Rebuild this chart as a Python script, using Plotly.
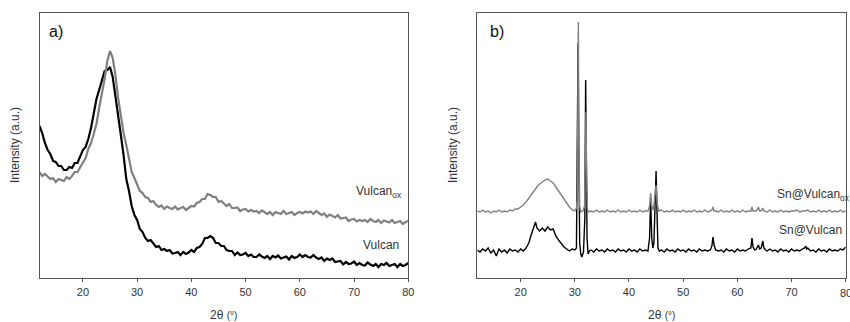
import plotly.graph_objects as go

# ---------------- DATA ----------------
# panel a) : 2-theta scan grid (0.5 deg steps, 12..80)
two_theta_a = [round(12 + 0.5 * i, 1) for i in range(137)]

vulcan_ox_a = [106, 102, 104, 101, 99, 100, 96, 99, 98, 97,
               101, 99, 102, 106, 106, 111, 116, 120, 129, 135,
               144, 154, 170, 184, 199, 217, 227, 220, 203, 180,
               163, 145, 133, 121, 106, 100, 94, 87, 85, 81,
               80, 76, 77, 73, 71, 72.5, 69, 71.5, 70, 69,
               71.5, 68.5, 70, 71, 68, 70.5, 72, 71.5, 75, 76,
               79, 79, 84, 83, 81, 81, 76, 77, 74, 72,
               74, 70, 70, 70.5, 67, 68.5, 69, 66.5, 68, 66.5,
               67, 65, 67.5, 65.5, 64, 66, 63, 66, 65, 64,
               67, 64, 65, 66, 63, 65, 66, 64.5, 66.5, 65.5,
               66.5, 64, 67, 64.5, 63, 64.5, 61, 63.5, 62, 60.5,
               63, 59.5, 60, 60.5, 57, 58.5, 59, 56.5, 58, 57,
               58, 56, 59, 57, 56, 58, 55, 57.5, 56.5, 55.5,
               58, 55, 56, 57, 54, 56, 57]

vulcan_a = [152, 145, 135, 128, 124, 117, 116, 112, 112, 108,
            108, 111, 110, 115, 115, 121, 128, 131, 139, 150,
            164, 179, 188, 197, 207, 208, 211, 201, 183, 162,
            143, 123, 99, 87, 72, 63, 58, 49, 46, 40,
            37, 38, 34, 31, 32, 28, 29, 27, 28, 24.5,
            25, 26, 23, 26, 24, 25.5, 28, 26, 30, 31,
            34, 40, 40, 42, 40, 35, 35, 32, 32, 28,
            27, 27, 23, 25.5, 23, 23.5, 25, 22, 23.5, 21,
            21, 23.5, 21.5, 20, 22, 19, 22, 20.5, 22.5, 19.5,
            20.5, 21.5, 18.5, 22, 20, 21, 23.5, 21, 23, 21,
            20.5, 23, 20.5, 19, 20.5, 17, 19.5, 18, 19.5, 16,
            16.5, 17, 13.5, 16, 14, 14.5, 16.5, 13, 15, 13,
            12.5, 15.5, 13.5, 12, 14, 11, 14, 13, 15, 12,
            13, 14, 11, 14, 12, 13, 15]

# panel b) : Sn@Vulcan
two_theta_sn = [12, 12.5, 13, 13.5, 14, 14.5, 15, 15.5, 16, 16.5,
                17, 17.5, 18, 18.5, 19, 19.5, 20, 20.5, 21, 21.5,
                22, 22.5, 22.75, 23, 23.5, 24, 24.5, 25, 25.5, 26,
                26.5, 27, 27.5, 28, 28.5, 29, 29.5, 30, 30.3, 30.45,
                30.6, 30.75, 30.9, 31.1, 31.3, 31.6, 31.85, 32.0, 32.1, 32.25,
                32.45, 32.7, 33, 33.5, 34, 34.5, 35, 35.5, 36, 36.5,
                37, 37.5, 38, 38.5, 39, 39.5, 40, 40.5, 41, 41.5,
                42, 42.5, 43, 43.5, 43.8, 44.0, 44.2, 44.4, 44.6, 44.85,
                45.0, 45.15, 45.35, 45.6, 46, 46.5, 47, 47.5, 48, 48.5,
                49, 49.5, 50, 50.5, 51, 51.5, 52, 52.5, 53, 53.5,
                54, 54.5, 55, 55.3, 55.5, 55.7, 56, 56.5, 57, 57.5,
                58, 58.5, 59, 59.5, 60, 60.5, 61, 61.5, 62, 62.5,
                62.7, 62.9, 63.2, 63.5, 63.9, 64.1, 64.4, 64.7, 64.9, 65.2,
                65.5, 66, 66.5, 67, 67.5, 68, 68.5, 69, 69.5, 70,
                70.5, 71, 71.5, 72, 72.4, 72.6, 72.8, 73, 73.5, 74,
                74.5, 75, 75.5, 76, 76.5, 77, 77.5, 78, 78.5, 79,
                79.5, 80]
sn_vulcan = [28, 26, 29, 27, 30, 25, 28, 22, 29, 26,
             28, 25, 29, 27, 28, 26, 29, 27, 30, 35,
             44, 53, 56, 50, 47, 50, 47, 51, 48, 49,
             42, 38, 34, 31, 29, 27, 29, 28, 30, 120,
             235, 120, 35, 24, 21, 26, 60, 198, 150, 40,
             24, 27, 28, 26, 29, 27, 28, 26, 29, 27,
             28, 26, 29, 27, 28, 26, 29, 27, 28, 26,
             29, 27, 28, 27, 40, 80, 40, 30, 35, 80,
             107, 70, 30, 27, 28, 26, 29, 27, 28, 26,
             29, 27, 28, 26, 29, 27, 28, 26, 29, 27,
             28, 27, 28, 32, 41, 33, 28, 27, 28, 26,
             29, 27, 28, 26, 29, 27, 28, 27, 29, 30,
             40, 31, 28, 29, 33, 29, 30, 37, 30, 28,
             27, 29, 27, 28, 26, 29, 27, 28, 26, 29,
             27, 28, 27, 29, 30, 32, 29, 30, 27, 28,
             26, 29, 27, 28, 26, 29, 27, 28, 27, 29,
             28, 31]

two_theta_snox = [12, 12.5, 13, 13.5, 14, 14.5, 15, 15.5, 16, 16.5,
                  17, 17.5, 18, 18.5, 19, 19.5, 20, 20.5, 21, 21.5,
                  22, 22.5, 23, 23.5, 24, 24.5, 25, 25.5, 26, 26.5,
                  27, 27.5, 28, 28.5, 29, 29.5, 30, 30.3, 30.45, 30.55,
                  30.65, 30.75, 30.9, 31.1, 31.5, 31.8, 31.95, 32.05, 32.15, 32.3,
                  32.5, 33, 33.5, 34, 34.5, 35, 35.5, 36, 36.5, 37,
                  37.5, 38, 38.5, 39, 39.5, 40, 40.5, 41, 41.5, 42,
                  42.5, 43, 43.5, 43.8, 44.0, 44.2, 44.5, 44.8, 45.0, 45.2,
                  45.5, 46, 46.5, 47, 47.5, 48, 48.5, 49, 49.5, 50,
                  50.5, 51, 51.5, 52, 52.5, 53, 53.5, 54, 54.5, 55,
                  55.3, 55.5, 55.7, 56, 56.5, 57, 57.5, 58, 58.5, 59,
                  59.5, 60, 60.5, 61, 61.5, 62, 62.5, 62.7, 62.9, 63.5,
                  63.9, 64.1, 64.4, 64.7, 64.9, 65.5, 66, 66.5, 67, 67.5,
                  68, 68.5, 69, 69.5, 70, 70.5, 71, 71.5, 72, 72.5,
                  73, 73.5, 74, 74.5, 75, 75.5, 76, 76.5, 77, 77.5,
                  78, 78.5, 79, 79.5, 80]
sn_vulcan_ox = [67, 66, 68, 66, 67, 65, 67, 66, 68, 66,
                67, 66, 68, 67, 69, 69, 71, 73, 76, 80,
                84, 87, 91, 94, 96, 98, 99, 97, 95, 91,
                87, 83, 78, 74, 71, 68, 67, 70, 79, 160,
                256, 150, 72, 66, 67, 72, 120, 166, 118, 70,
                66, 67, 66, 68, 66, 67, 66, 68, 66, 67,
                66, 68, 66, 67, 66, 68, 66, 67, 66, 68,
                66, 67, 67, 72, 85, 72, 68, 80, 93, 74,
                67, 68, 66, 67, 66, 68, 66, 67, 66, 68,
                66, 67, 66, 68, 66, 67, 66, 68, 66, 67,
                68, 71, 67, 67, 66, 68, 66, 67, 66, 68,
                66, 67, 66, 68, 66, 67, 67, 71, 67, 67,
                71, 67, 67, 70, 67, 66, 68, 66, 67, 66,
                68, 66, 67, 66, 67, 67, 68, 66, 67, 67,
                68, 66, 67, 66, 68, 66, 67, 66, 68, 66,
                67, 66, 68, 66, 67]

tick_vals = [20, 30, 40, 50, 60, 70, 80]

# ---------------- FIGURE ----------------
BLACK = "#000000"
GREY = "#808080"
FRAME = "#555555"
NARROW = "Liberation Sans Narrow, Arial Narrow, Liberation Sans, Arial, sans-serif"
SANS = "Liberation Sans, Arial, sans-serif"
TICKFONT = dict(family=NARROW, size=11, color="#333333")

fig = go.Figure()
fig.add_trace(go.Scatter(x=two_theta_a, y=vulcan_a, mode="lines", line=dict(color=BLACK, width=2.2),
                         xaxis="x", yaxis="y", showlegend=False, hoverinfo="skip"))
fig.add_trace(go.Scatter(x=two_theta_a, y=vulcan_ox_a, mode="lines", line=dict(color=GREY, width=2.2),
                         xaxis="x", yaxis="y", showlegend=False, hoverinfo="skip"))
fig.add_trace(go.Scatter(x=two_theta_sn, y=sn_vulcan, mode="lines", line=dict(color=BLACK, width=1.4),
                         xaxis="x2", yaxis="y2", showlegend=False, hoverinfo="skip"))
fig.add_trace(go.Scatter(x=two_theta_snox, y=sn_vulcan_ox, mode="lines", line=dict(color=GREY, width=1.4),
                         xaxis="x2", yaxis="y2", showlegend=False, hoverinfo="skip"))

W, H = 850, 322
ytop, ybot = 13, 278
ydom = [(H - ybot) / H, (H - ytop) / H]

xaxis_common = dict(range=[12, 80], tickvals=tick_vals, ticks="outside", ticklen=3, tickwidth=1,
                    tickcolor=FRAME, showline=True, linecolor=FRAME, linewidth=1, mirror=True,
                    showgrid=False, zeroline=False, ticklabelstandoff=1, automargin=False,
                    tickfont=TICKFONT)
yaxis_common = dict(range=[0, 265], showticklabels=False, ticks="", showline=True, linecolor=FRAME,
                    linewidth=1, mirror=True, showgrid=False, zeroline=False, automargin=False)

fig.update_layout(
    width=W, height=H, margin=dict(l=0, r=0, t=0, b=0, autoexpand=False),
    paper_bgcolor="white", plot_bgcolor="white",
    xaxis=dict(domain=[39.5 / W, 408.3 / W], anchor="y", **xaxis_common),
    yaxis=dict(domain=ydom, anchor="x", **yaxis_common),
    xaxis2=dict(domain=[477.3 / W, 845.7 / W], anchor="y2", **xaxis_common),
    yaxis2=dict(domain=ydom, anchor="x2", **yaxis_common),
)

ann = []
# axis titles
for xc in [(39.5 + 408.3) / 2 / W, (477.3 + 845.7) / 2 / W]:
    ann.append(dict(x=xc, y=(H - 315) / H, xref="paper", yref="paper", showarrow=False,
                    text="2θ <span style='font-size:10px'>(°)</span>",
                    font=dict(family=NARROW, size=12, color="#333333"), xanchor="center", yanchor="middle"))
for xp in [15, 453]:
    ann.append(dict(x=xp / W, y=(H - 145) / H, xref="paper", yref="paper", showarrow=False,
                    text="Intensity (a.u.)", textangle=-90,
                    font=dict(family=SANS, size=12, color="#333333"), xanchor="center", yanchor="middle"))
# last tick label of panel b, partly outside the page as in the reference
ann.append(dict(x=80, y=(H - 292.5) / H, xref="x2", yref="paper", showarrow=False, text="80",
                font=TICKFONT, xanchor="center", yanchor="middle"))
# panel letters
ann.append(dict(x=47 / W, y=(H - 31) / H, xref="paper", yref="paper", showarrow=False, text="a)",
                font=dict(family=SANS, size=16, color="#111111"), xanchor="left", yanchor="middle"))
ann.append(dict(x=488 / W, y=(H - 31) / H, xref="paper", yref="paper", showarrow=False, text="b)",
                font=dict(family=SANS, size=16, color="#111111"), xanchor="left", yanchor="middle"))
# series labels
lab_font = dict(family=NARROW, size=12, color="#333333")
ann.append(dict(x=69.9, y=86, xref="x", yref="y", showarrow=False, text="Vulcan<sub>ox</sub>",
                font=lab_font, xanchor="left", yanchor="middle"))
ann.append(dict(x=71.2, y=33, xref="x", yref="y", showarrow=False, text="Vulcan",
                font=lab_font, xanchor="left", yanchor="middle"))
ann.append(dict(x=66.9, y=83, xref="x2", yref="y2", showarrow=False, text="Sn@Vulcan<sub>ox</sub>",
                font=lab_font, xanchor="left", yanchor="middle"))
ann.append(dict(x=67.3, y=48, xref="x2", yref="y2", showarrow=False, text="Sn@Vulcan",
                font=lab_font, xanchor="left", yanchor="middle"))
fig.update_layout(annotations=ann)

fig.write_html("out.html",
               config={"displayModeBar": False, "staticPlot": True},
               post_script="document.body.style.margin='0';"
                           "document.documentElement.style.overflow='hidden';"
                           "document.body.style.overflow='hidden';")
